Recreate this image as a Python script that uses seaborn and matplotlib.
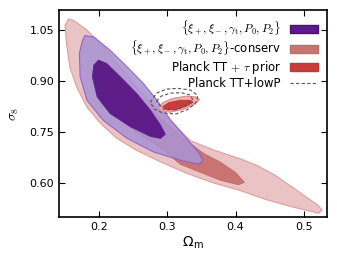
import numpy as np
import pandas as pd
import matplotlib
matplotlib.use("Agg")
import matplotlib.pyplot as plt
from matplotlib.patches import Patch
from matplotlib.lines import Line2D
import seaborn as sns

# contour outlines (Omega_m, sigma_8)
conserv95_om = [0.155, 0.162, 0.182, 0.206, 0.231, 0.255, 0.281, 0.306, 0.334, 0.368, 0.407, 0.432,
                0.457, 0.481, 0.505, 0.520, 0.527, 0.522, 0.510, 0.481, 0.444, 0.407, 0.368, 0.329,
                0.290, 0.255, 0.226, 0.202, 0.182, 0.167, 0.157, 0.152, 0.150]
conserv95_s8 = [1.082, 1.079, 1.050, 1.001, 0.942, 0.883, 0.826, 0.780, 0.725, 0.698, 0.672, 0.652,
                0.625, 0.592, 0.558, 0.537, 0.522, 0.512, 0.518, 0.532, 0.553, 0.579, 0.601, 0.629,
                0.663, 0.697, 0.732, 0.776, 0.824, 0.883, 0.941, 1.012, 1.065]

conserv68_om = [0.206, 0.231, 0.260, 0.290, 0.327, 0.353, 0.378, 0.400, 0.413,
                0.404, 0.378, 0.349, 0.319, 0.290, 0.253, 0.219, 0.202, 0.199]
conserv68_s8 = [0.938, 0.903, 0.850, 0.791, 0.727, 0.688, 0.662, 0.632, 0.603,
                0.596, 0.609, 0.632, 0.656, 0.705, 0.752, 0.806, 0.868, 0.918]

main95_om = [0.179, 0.192, 0.216, 0.241, 0.265, 0.285, 0.304, 0.329, 0.346, 0.352,
             0.346, 0.319, 0.280, 0.241, 0.206, 0.182, 0.172, 0.171, 0.175]
main95_s8 = [1.034, 1.030, 0.991, 0.942, 0.893, 0.844, 0.788, 0.730, 0.690, 0.668,
             0.656, 0.668, 0.692, 0.732, 0.785, 0.844, 0.913, 0.982, 1.016]

main68_om = [0.199, 0.211, 0.231, 0.255, 0.275, 0.290, 0.297,
             0.290, 0.275, 0.246, 0.216, 0.197, 0.190, 0.192]
main68_s8 = [0.962, 0.952, 0.913, 0.864, 0.815, 0.771, 0.744,
             0.732, 0.738, 0.766, 0.805, 0.854, 0.913, 0.947]

planck95_om = [0.287, 0.294, 0.307, 0.327, 0.341, 0.347, 0.340, 0.324, 0.304, 0.291]
planck95_s8 = [0.824, 0.838, 0.849, 0.856, 0.854, 0.846, 0.832, 0.818, 0.809, 0.812]

planck68_om = [0.293, 0.302, 0.319, 0.334, 0.338, 0.328, 0.312, 0.299]
planck68_s8 = [0.825, 0.837, 0.844, 0.844, 0.838, 0.827, 0.816, 0.816]

lowp95_om = [0.275, 0.284, 0.299, 0.316, 0.334, 0.344, 0.344, 0.331, 0.313, 0.294, 0.281]
lowp95_s8 = [0.838, 0.865, 0.877, 0.879, 0.874, 0.859, 0.841, 0.818, 0.804, 0.806, 0.818]

lowp68_om = [0.284, 0.291, 0.304, 0.321, 0.334, 0.337, 0.327, 0.312, 0.294]
lowp68_s8 = [0.841, 0.856, 0.865, 0.866, 0.859, 0.846, 0.828, 0.816, 0.818]

labels = [r'$\{\xi_+,\xi_-,\gamma_{\rm t},P_0,P_2\}$',
          r'$\{\xi_+,\xi_-,\gamma_{\rm t},P_0,P_2\}$-conserv',
          r'Planck TT $+$ $\tau$ prior',
          'Planck TT+lowP']

sns.set_style("ticks")
plt.rcParams['font.family'] = ['DejaVu Sans']
plt.rcParams['mathtext.fontset'] = 'cm'
plt.rcParams['font.size'] = 8
plt.rcParams['text.color'] = 'black'
plt.rcParams['axes.labelcolor'] = 'black'
plt.rcParams['xtick.color'] = 'black'
plt.rcParams['ytick.color'] = 'black'

fig = plt.figure(figsize=(3.37, 2.64), dpi=100)
ax = fig.add_axes([0.175, 0.179, 0.795, 0.783])

ax.fill(conserv95_om, conserv95_s8, facecolor='#eac4c4', edgecolor='#e09c9c', lw=0.8, zorder=1)
ax.fill(conserv68_om, conserv68_s8, facecolor='#c97373', edgecolor='#c46a6a', lw=0.6, zorder=2)
ax.fill(main95_om, main95_s8, facecolor='#ab93d2', edgecolor='#8a5cc8', lw=0.8, alpha=0.88, zorder=3)
ax.fill(main68_om, main68_s8, facecolor='#520c80', edgecolor='#5a1a8a', lw=0.6, alpha=0.88, zorder=4)
ax.fill(planck95_om, planck95_s8, facecolor='#f0b0b0', edgecolor='#e08a8a', lw=0.8, zorder=5)
ax.fill(planck68_om, planck68_s8, facecolor='#c83c3c', edgecolor='#c03838', lw=0.6, zorder=6)

# Planck TT+lowP dashed contours
for om, s8 in [(lowp95_om, lowp95_s8), (lowp68_om, lowp68_s8)]:
    df = pd.DataFrame({'om': om + om[:1], 's8': s8 + s8[:1]})
    sns.lineplot(data=df, x='om', y='s8', sort=False, estimator=None, ax=ax,
                 color='#555555', lw=0.8, linestyle=(0, (3, 2)), zorder=7)

ax.set_xlim(0.141, 0.534)
ax.set_ylim(0.502, 1.109)
ax.set_xticks([0.2, 0.3, 0.4, 0.5])
ax.set_yticks([0.60, 0.75, 0.90, 1.05])
ax.set_yticklabels(['0.60', '0.75', '0.90', '1.05'])
ax.tick_params(direction='in', top=True, right=True, length=4, width=0.8, labelsize=8)
for s in ax.spines.values():
    s.set_linewidth(1.2)
    s.set_color('black')
ax.set_xlabel(r'Ω$_\mathregular{m}$', fontsize=10, labelpad=2)
ax.set_ylabel(r'$\sigma_8$', fontsize=10, labelpad=6)

handles = [Patch(facecolor='#5c1a8a', edgecolor='#4a0f78'),
           Patch(facecolor='#c97373', edgecolor='#c46a6a'),
           Patch(facecolor='#c83c3c', edgecolor='#c03838'),
           Line2D([], [], color='#555555', lw=0.8, linestyle=(0, (3, 2)))]
leg = ax.legend(handles, labels, loc='upper right', frameon=False, markerfirst=False,
                fontsize=8.4, handlelength=2.4, handleheight=0.7, labelspacing=0.08,
                borderaxespad=0.35, handletextpad=0.8)
for t in leg.get_texts():
    t.set_ha('right')

fig.savefig('out.png', dpi=100)
